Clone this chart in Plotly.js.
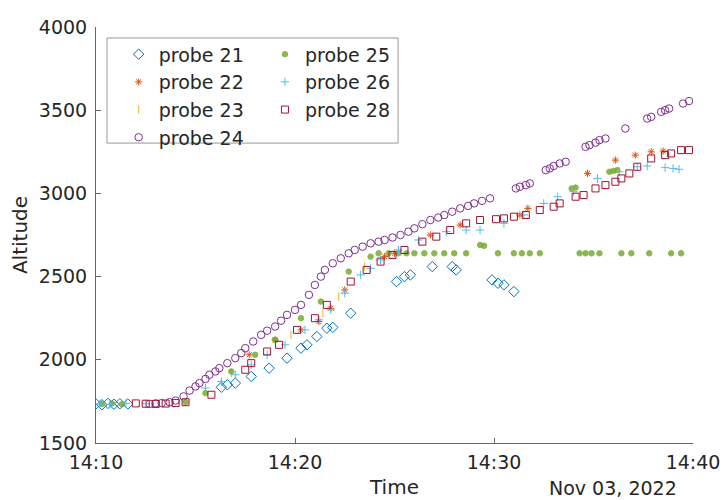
<!DOCTYPE html>
<html>
<head>
<meta charset="utf-8">
<script src="https://cdn.plot.ly/plotly-3.0.1.min.js"></script>
<style>html,body{margin:0;padding:0;background:#fff;}#chart{width:726px;height:500px;}</style>
</head>
<body>
<div id="chart"></div>
<script>
// minutes after 14:10 on 2022-11-03, altitude values
var t21 = [0.0, 0.3, 0.6, 0.9, 1.2, 1.6, 6.3, 6.6, 7.0, 7.8, 8.7, 9.6, 10.3, 10.6, 11.1, 11.6, 11.9, 12.8, 15.1, 15.5, 15.8, 16.9, 17.9, 18.1, 19.9, 20.2, 20.5, 21.0];
var a21 = [1735, 1730, 1738, 1733, 1736, 1734, 1835, 1850, 1860, 1900, 1950, 2010, 2070, 2090, 2140, 2190, 2195, 2280, 2470, 2500, 2510, 2560, 2560, 2540, 2480, 2460, 2450, 2410];

var t22 = [7.7, 9.0, 10.3, 11.2, 11.8, 12.5, 14.5, 15.0, 16.8, 18.3, 21.3, 21.7, 24.7, 26.1, 27.1, 27.9, 28.5];
var a22 = [2030, 2120, 2180, 2230, 2310, 2420, 2620, 2640, 2750, 2810, 2870, 2910, 3120, 3200, 3230, 3250, 3255];

var t23 = [6.8, 9.8, 11.4, 12.2, 13.5];
var a23 = [1920, 2150, 2280, 2380, 2560];

var t24 = [2.7, 3.0, 3.3, 3.7, 4.0, 4.4, 4.7, 5.0, 5.2, 5.5, 5.7, 6.0, 6.2, 6.6, 7.0, 7.3, 7.5, 7.9, 8.3, 8.6, 9.0, 9.3, 9.6, 10.0, 10.3, 10.7, 11.0, 11.3, 11.5, 11.9, 12.3, 12.7, 13.0, 13.4, 13.8, 14.2, 14.5, 14.9, 15.3, 15.7, 16.0, 16.4, 16.8, 17.2, 17.5, 17.9, 18.3, 18.7, 19.0, 19.4, 19.8, 21.1, 21.3, 21.6, 21.8, 22.6, 22.8, 23.0, 23.3, 23.6, 24.6, 24.8, 25.1, 25.3, 25.6, 26.6, 27.7, 27.9, 28.4, 28.6, 28.8, 29.5, 29.8];
var a24 = [1735, 1738, 1740, 1745, 1755, 1780, 1815, 1840, 1860, 1885, 1910, 1930, 1950, 1980, 2010, 2040, 2070, 2110, 2150, 2175, 2200, 2235, 2270, 2300, 2330, 2390, 2450, 2500, 2540, 2580, 2610, 2640, 2660, 2680, 2700, 2710, 2720, 2735, 2750, 2770, 2790, 2815, 2840, 2855, 2870, 2890, 2910, 2925, 2940, 2955, 2970, 3030, 3040, 3050, 3060, 3140, 3150, 3165, 3180, 3190, 3280, 3290, 3305, 3320, 3330, 3390, 3450, 3460, 3490, 3500, 3510, 3540, 3555];

var t25 = [0.3, 0.8, 1.3, 4.5, 5.5, 6.8, 8.0, 9.0, 10.3, 11.3, 12.7, 13.8, 14.2, 14.7, 15.2, 15.6, 16.0, 16.5, 17.0, 17.5, 18.0, 18.6, 19.3, 19.5, 20.2, 21.0, 21.4, 21.8, 22.3, 24.3, 24.6, 24.9, 25.3, 26.4, 26.9, 27.8, 28.9, 29.4, 23.9, 24.1, 25.8, 26.0, 26.2];
var a25 = [1735, 1738, 1733, 1745, 1800, 1930, 2030, 2120, 2250, 2350, 2530, 2620, 2640, 2640, 2640, 2640, 2640, 2640, 2640, 2640, 2640, 2640, 2690, 2685, 2640, 2640, 2640, 2640, 2640, 2640, 2640, 2640, 2640, 2640, 2640, 2640, 2640, 2640, 3030, 3035, 3130, 3135, 3140];

var t26 = [0.2, 0.7, 1.5, 2.5, 5.5, 6.3, 7.0, 7.8, 8.6, 9.5, 10.5, 11.2, 11.8, 12.5, 13.3, 13.8, 14.3, 15.2, 16.2, 17.6, 18.6, 19.3, 20.5, 21.5, 22.5, 23.2, 24.0, 25.2, 26.3, 27.2, 27.7, 28.6, 29.0, 29.3];
var a26 = [1735, 1732, 1738, 1736, 1830, 1870, 1910, 1970, 2030, 2090, 2180, 2240, 2300, 2400, 2510, 2550, 2600, 2660, 2720, 2770, 2780, 2780, 2820, 2870, 2940, 2980, 3010, 3090, 3130, 3160, 3165, 3155, 3150, 3145];

var t28 = [2.0, 2.5, 3.0, 3.5, 4.0, 4.5, 5.8, 7.5, 7.8, 8.6, 9.2, 10.1, 11.0, 11.6, 12.8, 13.6, 14.3, 14.9, 15.5, 16.4, 17.1, 17.8, 18.6, 19.3, 20.1, 20.5, 21.0, 21.6, 22.3, 23.0, 23.3, 24.1, 24.5, 25.1, 25.6, 26.1, 26.4, 26.8, 27.2, 27.9, 28.6, 28.9, 29.4, 29.8];
var a28 = [1738, 1736, 1735, 1737, 1740, 1745, 1790, 1940, 1980, 2050, 2090, 2180, 2250, 2330, 2470, 2540, 2590, 2630, 2660, 2710, 2740, 2780, 2820, 2840, 2845, 2850, 2860, 2870, 2900, 2920, 2940, 2980, 2990, 3030, 3050, 3070, 3090, 3120, 3160, 3210, 3230, 3240, 3260, 3260];

var xTicks = ['14:10', '14:20', '14:30', '14:40'];

function toTime(m) {
  var totalSec = Math.round((10 + m) * 60);
  var mm = Math.floor(totalSec / 60), ss = totalSec % 60;
  return '2022-11-03 14:' + String(mm).padStart(2, '0') + ':' + String(ss).padStart(2, '0');
}
function times(arr) { return arr.map(toTime); }

var FF = 'DejaVu Sans, sans-serif', FC = '#262626';

function tr(name, t, a, color, symbol, size, leg, extra) {
  var m = {symbol: symbol, size: size, color: color, line: {color: color, width: 1}};
  if (extra) for (var k in extra) m[k] = extra[k];
  return {type: 'scatter', mode: 'markers', name: name, x: times(t), y: a, marker: m, legend: leg};
}

var traces = [
  tr('probe 21', t21, a21, '#0072BD', 'diamond-open', 8, 'legend'),
  tr('probe 22', t22, a22, '#D95319', 'asterisk-open', 6, 'legend'),
  tr('probe 23', t23, a23, '#EDB120', 'line-ns-open', 6, 'legend'),
  tr('probe 24', t24, a24, '#7E2F8E', 'circle-open', 7.5, 'legend'),
  tr('probe 25', t25, a25, '#77AC30', 'circle', 5.5, 'legend2', {opacity: 0.85}),
  tr('probe 26', t26, a26, '#4DBEEE', 'cross-thin-open', 6, 'legend2'),
  tr('probe 28', t28, a28, '#A2142F', 'square-open', 7, 'legend2')
];

var legBase = function (x) {
  return {
    orientation: 'v', x: x, y: 0.98, xanchor: 'left', yanchor: 'top',
    bgcolor: 'rgba(0,0,0,0)', borderwidth: 0, tracegroupgap: 0,
    font: {family: FF, color: FC, size: 19}
  };
};

var layout = {
  width: 726, height: 500,
  margin: {l: 96, r: 33, t: 27, b: 57},
  paper_bgcolor: '#fff', plot_bgcolor: '#fff',
  font: {family: FF, color: FC, size: 19},
  showlegend: true,
  legend: legBase(0.038),
  legend2: legBase(0.283),
  shapes: [{
    type: 'rect', xref: 'paper', yref: 'paper', x0: 0.0184, x1: 0.506, y0: 0.721, y1: 0.9736,
    line: {color: '#999', width: 1}, fillcolor: 'rgba(255,255,255,1)', layer: 'above'
  }],
  xaxis: {
    type: 'date',
    range: ['2022-11-03 14:10:00', '2022-11-03 14:40:00'],
    tickvals: ['2022-11-03 14:10:00', '2022-11-03 14:20:00', '2022-11-03 14:30:00', '2022-11-03 14:40:00'],
    ticktext: xTicks,
    showgrid: false, zeroline: false, showline: true, linecolor: '#666', linewidth: 1,
    ticks: 'inside', ticklen: 5, tickcolor: '#666', ticklabelstandoff: 2,
    tickfont: {family: FF, color: FC, size: 19},
    title: {text: 'Time', font: {family: FF, color: FC, size: 20}, standoff: 8}
  },
  yaxis: {
    range: [1500, 4000], dtick: 500, tick0: 1500,
    showgrid: false, zeroline: false, showline: true, linecolor: '#666', linewidth: 1,
    ticks: 'inside', ticklen: 5, tickcolor: '#666', ticklabelstandoff: 4,
    tickfont: {family: FF, color: FC, size: 19},
    title: {text: 'Altitude', font: {family: FF, color: FC, size: 20}, standoff: 5}
  },
  annotations: [{
    text: 'Nov 03, 2022', xref: 'paper', yref: 'paper', x: 0.866, y: 0, yshift: -45,
    xanchor: 'center', yanchor: 'middle', showarrow: false,
    font: {family: FF, color: FC, size: 19}
  }]
};

Plotly.newPlot('chart', traces, layout, {displayModeBar: false, staticPlot: true});
</script>
</body>
</html>
